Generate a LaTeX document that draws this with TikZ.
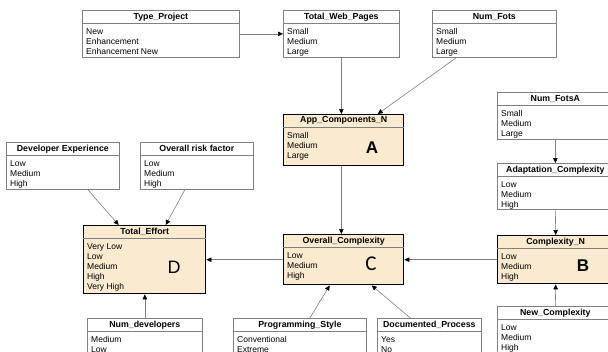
\documentclass[tikz,border=0pt]{standalone}
\usepackage{fontspec}
\setmainfont{Liberation Sans}
\newfontfamily\carl{Carlito}
\usetikzlibrary{arrows.meta}
\definecolor{beige}{RGB}{250,234,208}
\definecolor{edgegray}{RGB}{128,128,128}
\tikzset{
 plainbox/.style={draw=edgegray, line width=0.7pt, fill=white, inner sep=0},
 keybox/.style={draw=black, line width=1.4pt, fill=beige, inner sep=0},
 plainsep/.style={draw=edgegray, line width=0.6pt},
 keysep/.style={draw=edgegray, line width=0.6pt},
 titletext/.style={font=\fontsize{8.8}{10}\selectfont\bfseries, inner sep=0},
 itemtext/.style={font=\fontsize{8.5}{10}\selectfont, inner sep=0, anchor=base west},
 conn/.style={draw=edgegray, line width=0.6pt, -{Triangle[length=5pt,width=4.5pt,color=black]}},
 bigletter/.style={font=\fontsize{17}{17}\selectfont\bfseries, inner sep=0},
}
\newcommand\umlbox[8]{%
 \node[#2box, anchor=north west, minimum width=#5pt, minimum height=#6pt] (#1) at (#3,#4) {};
 \draw[#2sep] ([yshift=-13pt]#1.north west) -- ([yshift=-13pt]#1.north east);
 \node[titletext] (#1-title) at ([yshift=-6.8pt]#1.north) {#7};
 \foreach \itm [count=\i] in {#8} {
   \node[itemtext] (#1-item\i) at ([xshift=4pt,yshift={-24pt-(\i-1)*10.2pt}]#1.north west) {\itm};
 }%
}
\begin{document}
\begin{tikzpicture}[x=1pt,y=-1pt]
\useasboundingbox (0,0) rectangle (608,351);
\clip (0,0) rectangle (608,351);
\fill[white] (0,0) rectangle (608,351);

\umlbox{tp}{plain}{82}{10}{157}{47}{Type\_Project}{New,Enhancement,Enhancement New}
\umlbox{twp}{plain}{283}{10}{116}{47}{Total\_Web\_Pages}{Small,Medium,Large}
\umlbox{nf}{plain}{432}{10}{124}{47}{Num\_Fots}{Small,Medium,Large}
\umlbox{ac}{key}{283}{114}{120}{51}{App\_Components\_N}{Small,Medium,Large}
\umlbox{nfa}{plain}{497}{92}{116}{47}{Num\_FotsA}{Small,Medium,Large}
\umlbox{adc}{plain}{497}{163}{116}{46}{Adaptation\_Complexity}{Low,Medium,High}
\umlbox{de}{plain}{6}{142}{113}{47}{Developer Experience}{Low,Medium,High}
\umlbox{orf}{plain}{140}{142}{113}{47}{Overall risk factor}{Low,Medium,High}
\umlbox{te}{key}{83}{225}{122}{68}{Total\_Effort}{Very Low,Low,Medium,High,Very High}
\umlbox{oc}{key}{283}{234}{120}{50}{Overall\_Complexity}{Low,Medium,High}
\umlbox{cn}{key}{497}{235}{116}{48}{Complexity\_N}{Low,Medium,High}
\umlbox{nd}{plain}{87}{318}{115}{60}{Num\_developers}{Medium,Low}
\umlbox{ps}{plain}{233}{318}{133}{60}{Programming\_Style}{Conventional,Extreme}
\umlbox{dp}{plain}{377}{318}{104}{60}{Documented\_Process}{Yes,No}
\umlbox{ncx}{plain}{497}{306}{116}{60}{New\_Complexity}{Low,Medium,High}

\node[bigletter] (la) at (372,148) {A};
\node[bigletter] (lb) at (583,266) {B};
\node[font=\carl\fontsize{21}{21}\selectfont, inner sep=0] (lc) at (371,264) {C};
\node[font=\fontsize{18}{18}\selectfont, inner sep=0] (ld) at (174,267) {D};

\draw[conn] (tp.east) -- (twp.west);
\draw[conn] (twp.south) -- (twp.south |- ac.north);
\draw[conn] ([xshift=-38pt]nf.south) -- ([xshift=34pt]ac.north);
\draw[conn] (ac.south -| twp.south) -- (twp.south |- oc.north);
\draw[conn] (nfa.south) -- (adc.north);
\draw[conn] (adc.south) -- (cn.north);
\draw[conn] (ncx.north) -- (cn.south);
\draw[conn] (cn.west) -- (cn.west -| oc.east);
\draw[conn] (oc.west) -- (oc.west -| te.east);
\draw[conn] (nd.north) -- (nd.north |- te.south);
\draw[conn] ([xshift=10pt]ps.north) -- ([xshift=-14pt]oc.south);
\draw[conn] ([xshift=-19pt]dp.north) -- ([xshift=28pt]oc.south);
\draw[conn] ([xshift=25pt]de.south) -- ([xshift=-26pt]te.north);
\draw[conn] ([xshift=-12pt]orf.south) -- ([xshift=21pt]te.north);
\end{tikzpicture}
\end{document}
